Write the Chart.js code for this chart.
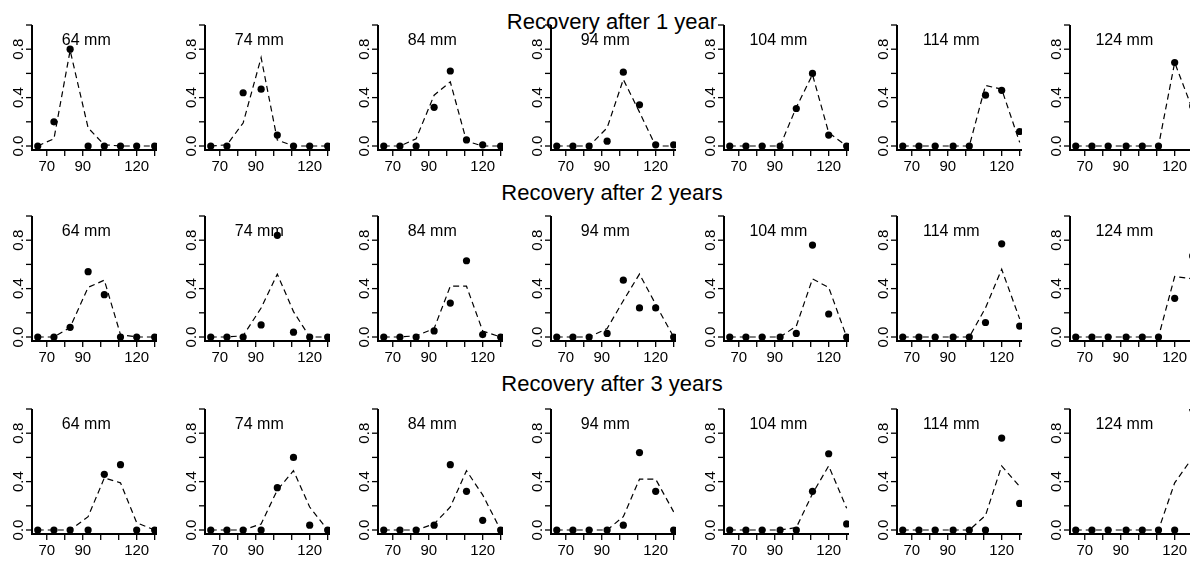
<!DOCTYPE html>
<html>
<head>
<meta charset="utf-8">
<script src="https://cdn.jsdelivr.net/npm/chart.js@4.4.1/dist/chart.umd.min.js"></script>
<style>
body { margin: 0; background: #fff; }
#fig { position: relative; width: 1190px; height: 561px; overflow: hidden; background: #fff;
       font-family: "Liberation Sans", Arial, sans-serif; }
.title { position: absolute; font-size: 22px; line-height: 1; color: #000; white-space: nowrap;
         transform: translateX(-50%); }
canvas { position: absolute; }
</style>
</head>
<body>
<div id="fig"></div>
<script>
// size classes (mm) on the x axis
const sizeClasses = [65, 74, 83, 93, 102, 111, 120, 130];
const panelLabels = ['64 mm', '74 mm', '84 mm', '94 mm', '104 mm', '114 mm', '124 mm'];
const yearTitles = ['Recovery after 1 year', 'Recovery after 2 years', 'Recovery after 3 years'];

const xTickValues = [70, 80, 90, 100, 110, 120, 130];
const xTickLabels = ['70', '', '90', '', '', '120', ''];
const yTickValues = [0, 0.2, 0.4, 0.6, 0.8, 1.0];
const yTickLabels = ['0.0', '', '0.4', '', '0.8', ''];

// observed proportions (dots), one row per release size
const obsYear1 = [
    [0, 0.2, 0.8, 0, 0, 0, 0, 0],
    [0, 0, 0.44, 0.47, 0.09, 0, 0, 0],
    [0, 0, 0, 0.32, 0.62, 0.05, 0.01, 0],
    [0, 0, 0, 0.04, 0.61, 0.34, 0.01, 0.01],
    [0, 0, 0, 0, 0.31, 0.6, 0.09, 0],
    [0, 0, 0, 0, 0, 0.42, 0.46, 0.12],
    [0, 0, 0, 0, 0, 0, 0.69, 0.33]
];
const obsYear2 = [
    [0, 0, 0.08, 0.54, 0.35, 0, 0, 0],
    [0, 0, 0, 0.1, 0.84, 0.04, 0, 0],
    [0, 0, 0, 0.05, 0.28, 0.63, 0.02, 0],
    [0, 0, 0, 0.03, 0.47, 0.24, 0.24, 0],
    [0, 0, 0, 0, 0.03, 0.76, 0.19, 0],
    [0, 0, 0, 0, 0, 0.12, 0.77, 0.09],
    [0, 0, 0, 0, 0, 0, 0.32, 0.67]
];
const obsYear3 = [
    [0, 0, 0, 0, 0.46, 0.54, 0, 0],
    [0, 0, 0, 0, 0.35, 0.6, 0.04, 0],
    [0, 0, 0, 0.04, 0.54, 0.32, 0.08, 0],
    [0, 0, 0, 0, 0.04, 0.64, 0.32, 0],
    [0, 0, 0, 0, 0, 0.32, 0.63, 0.05],
    [0, 0, 0, 0, 0, 0, 0.76, 0.22],
    [0, 0, 0, 0, 0, 0, 0, 1.0]
];

// fitted proportions (dashed lines)
const fitYear1 = [
    [0, 0.06, 0.79, 0.15, 0.01, 0, 0, 0],
    [0, 0.01, 0.19, 0.73, 0.05, 0, 0, 0],
    [0, 0, 0.06, 0.42, 0.53, 0.04, 0, 0],
    [0, 0, 0, 0.15, 0.55, 0.28, 0, 0],
    [0, 0, 0, 0, 0.32, 0.59, 0.11, 0],
    [0, 0, 0, 0, 0, 0.5, 0.47, 0.03],
    [0, 0, 0, 0, 0, 0, 0.69, 0.3]
];
const fitYear2 = [
    [0, 0, 0.08, 0.41, 0.47, 0.02, 0, 0],
    [0, 0, 0.01, 0.24, 0.52, 0.21, 0, 0],
    [0, 0, 0.01, 0.07, 0.42, 0.42, 0.05, 0],
    [0, 0, 0, 0.07, 0.3, 0.52, 0.27, 0],
    [0, 0, 0, 0, 0.09, 0.48, 0.41, 0],
    [0, 0, 0, 0, 0, 0.24, 0.56, 0.15],
    [0, 0, 0, 0, 0, 0, 0.5, 0.48]
];
const fitYear3 = [
    [0, 0, 0, 0.11, 0.43, 0.39, 0.06, 0],
    [0, 0, 0, 0.05, 0.33, 0.49, 0.19, 0],
    [0, 0, 0, 0.05, 0.19, 0.49, 0.29, 0],
    [0, 0, 0, 0, 0.11, 0.42, 0.42, 0.15],
    [0, 0, 0, 0, 0.02, 0.3, 0.53, 0.18],
    [0, 0, 0, 0, 0, 0.12, 0.53, 0.36],
    [0, 0, 0, 0, 0, 0, 0.39, 0.6]
];

const observed = [obsYear1, obsYear2, obsYear3];
const fitted = [fitYear1, fitYear2, fitYear3];

const FONT = '"Liberation Sans", Arial, sans-serif';
const fig = document.getElementById('fig');

// R style L-shaped axes, ticks and panel label
const rAxes = {
    id: 'rAxes',
    beforeDatasetsDraw(chart) {
        const ctx = chart.ctx, a = chart.chartArea;
        const xs = chart.scales.x, ys = chart.scales.y;
        ctx.save();
        ctx.strokeStyle = '#000';
        ctx.lineWidth = 2;
        ctx.beginPath();
        ctx.moveTo(a.left, a.top);
        ctx.lineTo(a.left, a.bottom);
        ctx.lineTo(a.right, a.bottom);
        ctx.stroke();

        ctx.lineWidth = 1.3;
        ctx.fillStyle = '#000';
        ctx.font = '15px ' + FONT;
        yTickValues.forEach((v, i) => {
            const py = ys.getPixelForValue(v);
            ctx.beginPath();
            ctx.moveTo(a.left - 6, py);
            ctx.lineTo(a.left, py);
            ctx.stroke();
            if (yTickLabels[i]) {
                ctx.save();
                ctx.translate(a.left - 13, py);
                ctx.rotate(-Math.PI / 2);
                ctx.textAlign = 'center';
                ctx.textBaseline = 'middle';
                ctx.fillText(yTickLabels[i], 0, 0);
                ctx.restore();
            }
        });
        xTickValues.forEach((v, i) => {
            const px = xs.getPixelForValue(v);
            ctx.beginPath();
            ctx.moveTo(px, a.bottom);
            ctx.lineTo(px, a.bottom + 6);
            ctx.stroke();
            if (xTickLabels[i]) {
                ctx.textAlign = 'center';
                ctx.textBaseline = 'middle';
                ctx.fillText(xTickLabels[i], px, a.bottom + 17);
            }
        });

        const label = chart.options.plugins.rAxes.label;
        ctx.font = '16px ' + FONT;
        ctx.textAlign = 'center';
        ctx.textBaseline = 'middle';
        ctx.fillText(label, xs.getPixelForValue(92), ys.getPixelForValue(0.87));
        ctx.restore();
    }
};

const rowTops = [0, 191, 384];
const titleBaselines = [30, 201, 392];

yearTitles.forEach((t, r) => {
    const d = document.createElement('div');
    d.className = 'title';
    d.textContent = t;
    d.style.left = '612px';
    d.style.top = (titleBaselines[r] - 18.6) + 'px';
    fig.appendChild(d);
});

for (let r = 0; r < 3; r++) {
    for (let c = 0; c < 7; c++) {
        const cv = document.createElement('canvas');
        cv.width = 173;
        cv.height = 192;
        cv.style.left = (173 * c) + 'px';
        cv.style.top = rowTops[r] + 'px';
        fig.appendChild(cv);

        const pts = sizeClasses.map((x, i) => ({ x: x, y: observed[r][c][i] }));
        const fit = sizeClasses.map((x, i) => ({ x: x, y: fitted[r][c][i] }));

        new Chart(cv, {
            type: 'scatter',
            data: {
                datasets: [{
                    data: pts,
                    showLine: false,
                    pointRadius: 3.6,
                    pointBackgroundColor: '#000',
                    pointBorderWidth: 0
                }, {
                    data: fit,
                    showLine: true,
                    borderColor: '#000',
                    borderWidth: 1.2,
                    borderDash: [6, 4],
                    pointRadius: 0,
                    tension: 0
                }]
            },
            options: {
                responsive: false,
                animation: false,
                devicePixelRatio: 1,
                layout: { padding: { left: 32, right: 16, top: 25, bottom: 42 } },
                scales: {
                    x: { type: 'linear', display: false, min: 61.8, max: 131.3 },
                    y: { type: 'linear', display: false, min: -0.033, max: 1.0 }
                },
                plugins: {
                    legend: { display: false },
                    tooltip: { enabled: false },
                    rAxes: { label: panelLabels[c] }
                }
            },
            plugins: [rAxes]
        });
    }
}
</script>
</body>
</html>
